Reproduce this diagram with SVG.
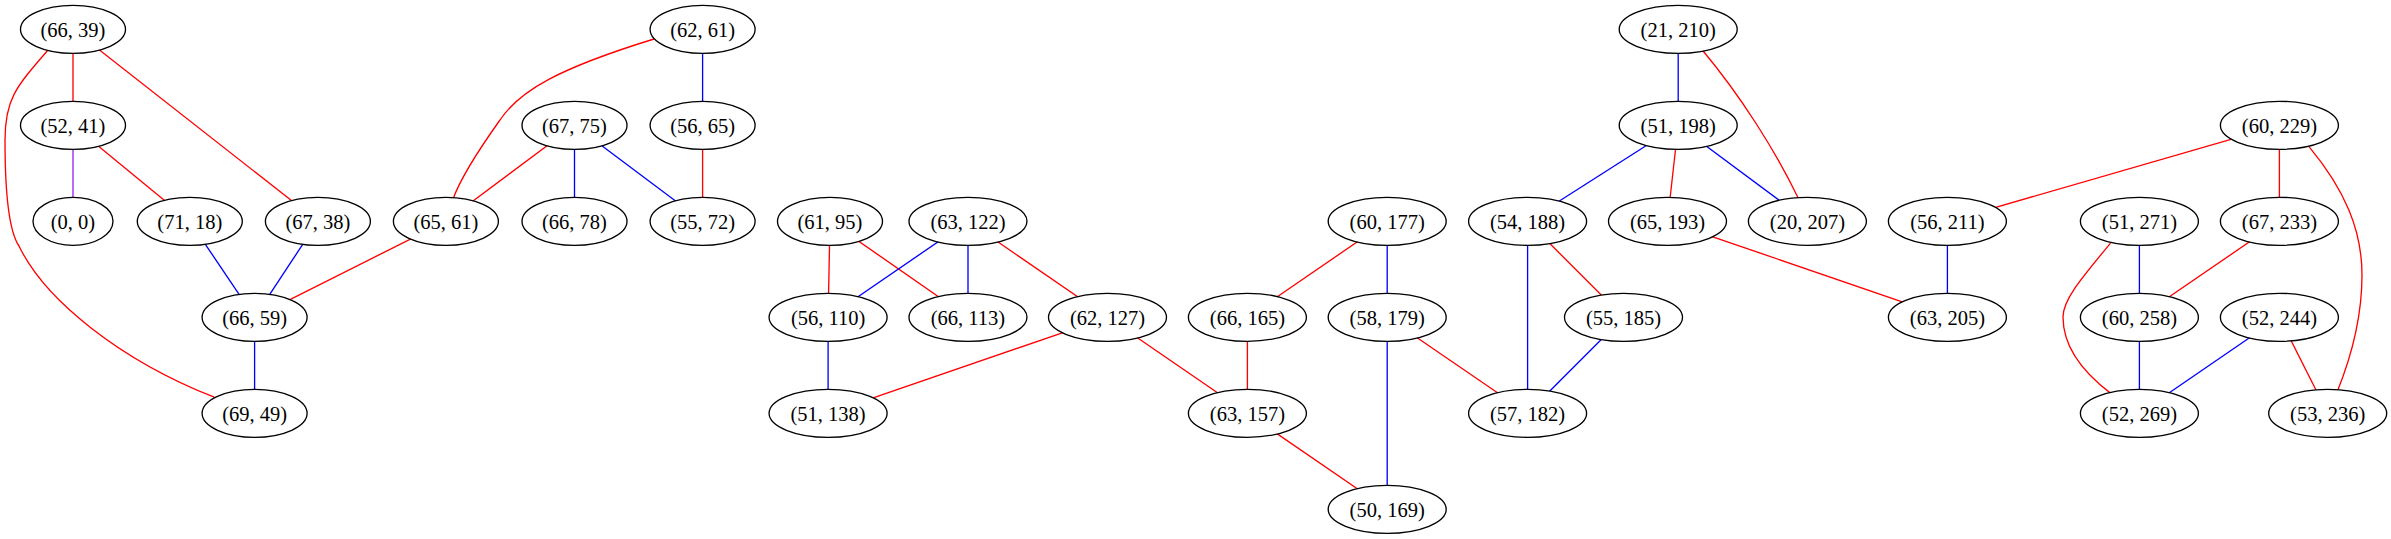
<svg xmlns="http://www.w3.org/2000/svg" width="2391" height="539" viewBox="0 0 2391 539">
<style>
.n ellipse{fill:#fff;stroke:#000;stroke-width:1.33}
.n text{font-family:"Liberation Serif","Times New Roman",serif;font-size:20.5px;text-anchor:middle;fill:#000}
#edges path,#edges line{fill:none;stroke-width:1.33}
.r{stroke:#ff0000}
.b{stroke:#0000ff}
.p{stroke:#a020f0}
</style>
<rect width="2391" height="539" fill="#fff"/>
<g id="edges">
<line class="r" x1="73" y1="29.3" x2="73" y2="125.3"/>
<line class="r" x1="73" y1="29.3" x2="317.9" y2="221.3"/>
<path class="r" d="M47.4,50.7 C15,88 5,100 5,140 C5,190 8,230 19,246 C45,300 120,360 214.3,397.2"/>
<line class="p" x1="73" y1="125.3" x2="73" y2="221.3"/>
<line class="r" x1="73" y1="125.3" x2="189.8" y2="221.3"/>
<line class="b" x1="189.8" y1="221.3" x2="254.6" y2="317.3"/>
<line class="b" x1="317.9" y1="221.3" x2="254.6" y2="317.3"/>
<line class="r" x1="445.9" y1="221.3" x2="254.6" y2="317.3"/>
<line class="b" x1="254.6" y1="317.3" x2="254.6" y2="413.3"/>
<path class="r" d="M654,39 C560,68 520,90 500,120 C475,155 460,180 453,199"/>
<line class="b" x1="702.6" y1="29.3" x2="702.6" y2="125.3"/>
<line class="r" x1="702.6" y1="125.3" x2="702.6" y2="221.3"/>
<line class="r" x1="574.5" y1="125.3" x2="445.9" y2="221.3"/>
<line class="b" x1="574.5" y1="125.3" x2="574.5" y2="221.3"/>
<line class="b" x1="574.5" y1="125.3" x2="702.6" y2="221.3"/>
<line class="r" x1="830" y1="221.3" x2="828.1" y2="317.3"/>
<line class="r" x1="830" y1="221.3" x2="968" y2="317.3"/>
<line class="b" x1="968" y1="221.3" x2="828.1" y2="317.3"/>
<line class="b" x1="968" y1="221.3" x2="968" y2="317.3"/>
<line class="r" x1="968" y1="221.3" x2="1107.5" y2="317.3"/>
<line class="b" x1="828.1" y1="317.3" x2="828.1" y2="413.3"/>
<line class="r" x1="1107.5" y1="317.3" x2="828.1" y2="413.3"/>
<line class="r" x1="1107.5" y1="317.3" x2="1247.4" y2="413.3"/>
<line class="r" x1="1387.2" y1="221.3" x2="1247.4" y2="317.3"/>
<line class="b" x1="1387.2" y1="221.3" x2="1387.2" y2="317.3"/>
<line class="r" x1="1247.4" y1="317.3" x2="1247.4" y2="413.3"/>
<line class="b" x1="1387.2" y1="317.3" x2="1387.2" y2="509.3"/>
<line class="r" x1="1387.2" y1="317.3" x2="1527.6" y2="413.3"/>
<line class="r" x1="1247.4" y1="413.3" x2="1387.2" y2="509.3"/>
<line class="b" x1="1527.6" y1="221.3" x2="1527.6" y2="413.3"/>
<line class="r" x1="1527.6" y1="221.3" x2="1623.5" y2="317.3"/>
<line class="b" x1="1623.5" y1="317.3" x2="1527.6" y2="413.3"/>
<line class="b" x1="1678.2" y1="29.3" x2="1678.2" y2="125.3"/>
<path class="r" d="M1702.9,50.7 C1740,95 1775,150 1798.3,198.3"/>
<line class="b" x1="1678.2" y1="125.3" x2="1527.6" y2="221.3"/>
<line class="r" x1="1678.2" y1="125.3" x2="1667.5" y2="221.3"/>
<line class="b" x1="1678.2" y1="125.3" x2="1807.4" y2="221.3"/>
<line class="r" x1="1667.5" y1="221.3" x2="1947.4" y2="317.3"/>
<line class="r" x1="2279.4" y1="125.3" x2="1947.4" y2="221.3"/>
<line class="r" x1="2279.4" y1="125.3" x2="2279.4" y2="221.3"/>
<path class="r" d="M2309,146.6 C2345,190 2362,230 2362,275 C2362,320 2350,360 2337.3,391.4"/>
<line class="b" x1="1947.4" y1="221.3" x2="1947.4" y2="317.3"/>
<line class="b" x1="2139.4" y1="221.3" x2="2139.4" y2="317.3"/>
<path class="r" d="M2110.5,243.1 C2080,280 2063,300 2063,317 C2063,345 2080,370 2110.5,393.1"/>
<line class="r" x1="2279.4" y1="221.3" x2="2139.4" y2="317.3"/>
<line class="b" x1="2139.4" y1="317.3" x2="2139.4" y2="413.3"/>
<line class="b" x1="2279.4" y1="317.3" x2="2139.4" y2="413.3"/>
<line class="r" x1="2279.4" y1="317.3" x2="2327.7" y2="413.3"/>
</g>
<g id="n1" class="n"><ellipse cx="73" cy="29.3" rx="52.5" ry="24"/><text x="73" y="36.5">(66, 39)</text></g>
<g id="n2" class="n"><ellipse cx="702.6" cy="29.3" rx="52.5" ry="24"/><text x="702.6" y="36.5">(62, 61)</text></g>
<g id="n3" class="n"><ellipse cx="73" cy="125.3" rx="52.5" ry="24"/><text x="73" y="132.5">(52, 41)</text></g>
<g id="n4" class="n"><ellipse cx="574.5" cy="125.3" rx="52.5" ry="24"/><text x="574.5" y="132.5">(67, 75)</text></g>
<g id="n5" class="n"><ellipse cx="702.6" cy="125.3" rx="52.5" ry="24"/><text x="702.6" y="132.5">(56, 65)</text></g>
<g id="n6" class="n"><ellipse cx="73" cy="221.3" rx="40" ry="24"/><text x="73" y="228.5">(0, 0)</text></g>
<g id="n7" class="n"><ellipse cx="189.8" cy="221.3" rx="52.5" ry="24"/><text x="189.8" y="228.5">(71, 18)</text></g>
<g id="n8" class="n"><ellipse cx="317.9" cy="221.3" rx="52.5" ry="24"/><text x="317.9" y="228.5">(67, 38)</text></g>
<g id="n9" class="n"><ellipse cx="445.9" cy="221.3" rx="52.5" ry="24"/><text x="445.9" y="228.5">(65, 61)</text></g>
<g id="n10" class="n"><ellipse cx="574.5" cy="221.3" rx="52.5" ry="24"/><text x="574.5" y="228.5">(66, 78)</text></g>
<g id="n11" class="n"><ellipse cx="702.6" cy="221.3" rx="52.5" ry="24"/><text x="702.6" y="228.5">(55, 72)</text></g>
<g id="n12" class="n"><ellipse cx="254.6" cy="317.3" rx="52.5" ry="24"/><text x="254.6" y="324.5">(66, 59)</text></g>
<g id="n13" class="n"><ellipse cx="254.6" cy="413.3" rx="52.5" ry="24"/><text x="254.6" y="420.5">(69, 49)</text></g>
<g id="n14" class="n"><ellipse cx="830" cy="221.3" rx="52.5" ry="24"/><text x="830" y="228.5">(61, 95)</text></g>
<g id="n15" class="n"><ellipse cx="968" cy="221.3" rx="59" ry="24"/><text x="968" y="228.5">(63, 122)</text></g>
<g id="n16" class="n"><ellipse cx="1387.2" cy="221.3" rx="59" ry="24"/><text x="1387.2" y="228.5">(60, 177)</text></g>
<g id="n17" class="n"><ellipse cx="1527.6" cy="221.3" rx="59" ry="24"/><text x="1527.6" y="228.5">(54, 188)</text></g>
<g id="n18" class="n"><ellipse cx="828.1" cy="317.3" rx="59" ry="24"/><text x="828.1" y="324.5">(56, 110)</text></g>
<g id="n19" class="n"><ellipse cx="968" cy="317.3" rx="59" ry="24"/><text x="968" y="324.5">(66, 113)</text></g>
<g id="n20" class="n"><ellipse cx="1107.5" cy="317.3" rx="59" ry="24"/><text x="1107.5" y="324.5">(62, 127)</text></g>
<g id="n21" class="n"><ellipse cx="1247.4" cy="317.3" rx="59" ry="24"/><text x="1247.4" y="324.5">(66, 165)</text></g>
<g id="n22" class="n"><ellipse cx="1387.2" cy="317.3" rx="59" ry="24"/><text x="1387.2" y="324.5">(58, 179)</text></g>
<g id="n23" class="n"><ellipse cx="828.1" cy="413.3" rx="59" ry="24"/><text x="828.1" y="420.5">(51, 138)</text></g>
<g id="n24" class="n"><ellipse cx="1247.4" cy="413.3" rx="59" ry="24"/><text x="1247.4" y="420.5">(63, 157)</text></g>
<g id="n25" class="n"><ellipse cx="1527.6" cy="413.3" rx="59" ry="24"/><text x="1527.6" y="420.5">(57, 182)</text></g>
<g id="n26" class="n"><ellipse cx="1387.2" cy="509.3" rx="59" ry="24"/><text x="1387.2" y="516.5">(50, 169)</text></g>
<g id="n27" class="n"><ellipse cx="1678.2" cy="29.3" rx="59" ry="24"/><text x="1678.2" y="36.5">(21, 210)</text></g>
<g id="n28" class="n"><ellipse cx="1678.2" cy="125.3" rx="59" ry="24"/><text x="1678.2" y="132.5">(51, 198)</text></g>
<g id="n29" class="n"><ellipse cx="2279.4" cy="125.3" rx="59" ry="24"/><text x="2279.4" y="132.5">(60, 229)</text></g>
<g id="n30" class="n"><ellipse cx="1667.5" cy="221.3" rx="59" ry="24"/><text x="1667.5" y="228.5">(65, 193)</text></g>
<g id="n31" class="n"><ellipse cx="1807.4" cy="221.3" rx="59" ry="24"/><text x="1807.4" y="228.5">(20, 207)</text></g>
<g id="n32" class="n"><ellipse cx="1947.4" cy="221.3" rx="59" ry="24"/><text x="1947.4" y="228.5">(56, 211)</text></g>
<g id="n33" class="n"><ellipse cx="2139.4" cy="221.3" rx="59" ry="24"/><text x="2139.4" y="228.5">(51, 271)</text></g>
<g id="n34" class="n"><ellipse cx="2279.4" cy="221.3" rx="59" ry="24"/><text x="2279.4" y="228.5">(67, 233)</text></g>
<g id="n35" class="n"><ellipse cx="1623.5" cy="317.3" rx="59" ry="24"/><text x="1623.5" y="324.5">(55, 185)</text></g>
<g id="n36" class="n"><ellipse cx="1947.4" cy="317.3" rx="59" ry="24"/><text x="1947.4" y="324.5">(63, 205)</text></g>
<g id="n37" class="n"><ellipse cx="2139.4" cy="317.3" rx="59" ry="24"/><text x="2139.4" y="324.5">(60, 258)</text></g>
<g id="n38" class="n"><ellipse cx="2279.4" cy="317.3" rx="59" ry="24"/><text x="2279.4" y="324.5">(52, 244)</text></g>
<g id="n39" class="n"><ellipse cx="2139.4" cy="413.3" rx="59" ry="24"/><text x="2139.4" y="420.5">(52, 269)</text></g>
<g id="n40" class="n"><ellipse cx="2327.7" cy="413.3" rx="59" ry="24"/><text x="2327.7" y="420.5">(53, 236)</text></g>
</svg>
